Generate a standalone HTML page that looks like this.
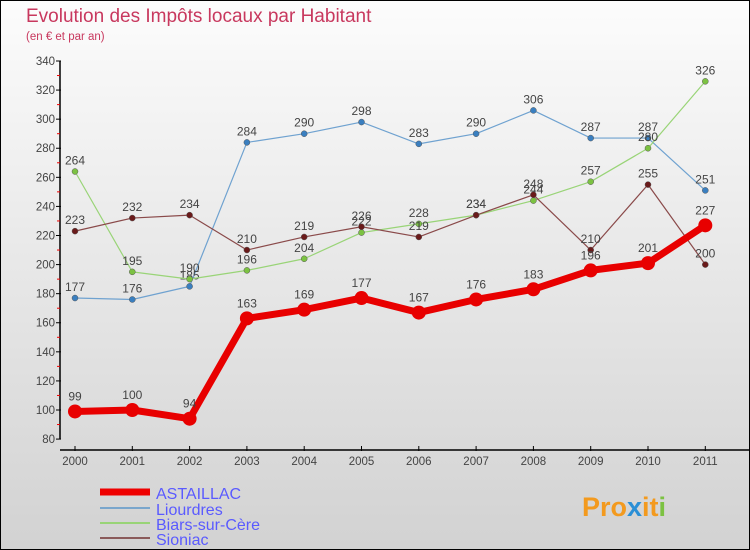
<!DOCTYPE html>
<html><head><meta charset="utf-8"><style>
body{margin:0}
#c{width:750px;height:550px;position:relative;overflow:hidden;font-family:"Liberation Sans",sans-serif}
</style></head><body>
<div id="c">
<svg id="s" width="750" height="550" xmlns="http://www.w3.org/2000/svg">
<defs><linearGradient id="bg" x1="0" y1="0" x2="0" y2="1"><stop offset="0" stop-color="#fcfcfc"/><stop offset="1" stop-color="#d2d2d2"/></linearGradient></defs>
<rect x="0.5" y="0.5" width="749" height="549" fill="url(#bg)" stroke="#000"/>
<text x="26" y="22" font-size="19" fill="#c8385e">Evolution des Impôts locaux par Habitant</text>
<text x="26" y="40" font-size="11.5" fill="#c8385e">(en € et par an)</text>
<g id="axes"></g><g id="series"></g>
<g>
<line x1="100" y1="492" x2="150" y2="492" stroke="#e00" stroke-width="7"/>
<text x="156" y="499" font-size="16" fill="#5a5aff">ASTAILLAC</text>
<line x1="100" y1="508" x2="150" y2="508" stroke="#7aa6cc" stroke-width="2"/>
<text x="156" y="515" font-size="16" fill="#5a5aff">Liourdres</text>
<line x1="100" y1="523" x2="150" y2="523" stroke="#99d477" stroke-width="2"/>
<text x="156" y="530" font-size="16" fill="#5a5aff">Biars-sur-Cère</text>
<line x1="100" y1="538" x2="150" y2="538" stroke="#8a5a5a" stroke-width="2"/>
<text x="156" y="545" font-size="16" fill="#5a5aff">Sioniac</text>
</g>
<text x="582" y="516" font-size="27" font-weight="bold"><tspan fill="#f39a1e">Pro</tspan><tspan fill="#2a8fd6">x</tspan><tspan fill="#f39a1e">it</tspan><tspan fill="#7cc242">i</tspan></text>
</svg></div>
<script>
const years=["2000","2001","2002","2003","2004","2005","2006","2007","2008","2009","2010","2011"];
const yTicks=[80,100,120,140,160,180,200,220,240,260,280,300,320,340];
const astaillac=[99,100,94,163,169,177,167,176,183,196,201,227];
const liourdres=[177,176,185,284,290,298,283,290,306,287,287,251];
const biars=[264,195,190,196,204,222,228,234,244,257,280,326];
const sioniac=[223,232,234,210,219,226,219,234,248,210,255,200];
const NS="http://www.w3.org/2000/svg";
function X(i){return 75+i*57.3;}
function Y(v){return 410-(v-100)*1.4542;}
function mk(t,a,p){const e=document.createElementNS(NS,t);for(const k in a)e.setAttribute(k,a[k]);p.appendChild(e);return e;}
const ax=document.getElementById('axes');
let e=mk('line',{x1:60,y1:Y(340),x2:60,y2:Y(80),stroke:'#000','stroke-width':1.5},ax);


e=mk('line',{x1:60,y1:450,x2:750,y2:450,stroke:'#000','stroke-width':1.5},ax);


yTicks.forEach((v,i)=>{
  mk('line',{x1:56,y1:Y(v),x2:61,y2:Y(v),stroke:'#000'},ax);
  if(i<yTicks.length-1)mk('line',{x1:57,y1:Y(v+10),x2:60,y2:Y(v+10),stroke:'#e00'},ax);
  const t=mk('text',{x:55,y:Y(v)+4,'font-size':11.5,fill:'#444','text-anchor':'end'},ax);t.textContent=v;
  
  
});
years.forEach((y,i)=>{
  mk('line',{x1:X(i),y1:446,x2:X(i),y2:451,stroke:'#000'},ax);
  const t=mk('text',{x:X(i),y:465,'font-size':11.5,fill:'#444','text-anchor':'middle'},ax);t.textContent=y;
  
  
});
const sg=document.getElementById('series');
function draw(name,data,color,dot,w,r){
  const g=mk('g',{},sg);
  
  
  mk('polyline',{points:data.map((v,i)=>X(i)+','+Y(v)).join(' '),fill:'none',stroke:color,'stroke-width':w,'stroke-linejoin':'round'},g);
  data.forEach((v,i)=>{
    const c=mk('circle',{cx:X(i),cy:Y(v),r:r,fill:dot,stroke:w>3?'none':'#555','stroke-width':0.5},g);
    
    
    const t=mk('text',{x:X(i),y:Y(v)-(w>3?11:7),'font-size':12,fill:'#444','text-anchor':'middle'},g);t.textContent=v;
    
    
  });
}
draw('liourdres',liourdres,'#6fa2d0','#3a7fc0',1.2,3);
draw('biars',biars,'#99d477','#7cc242',1.2,3);
draw('sioniac',sioniac,'#8a4a4a','#6a1a1a',1.2,3);
draw('astaillac',astaillac,'#e80000','#e80000',7,7);
</script>
</body></html>
